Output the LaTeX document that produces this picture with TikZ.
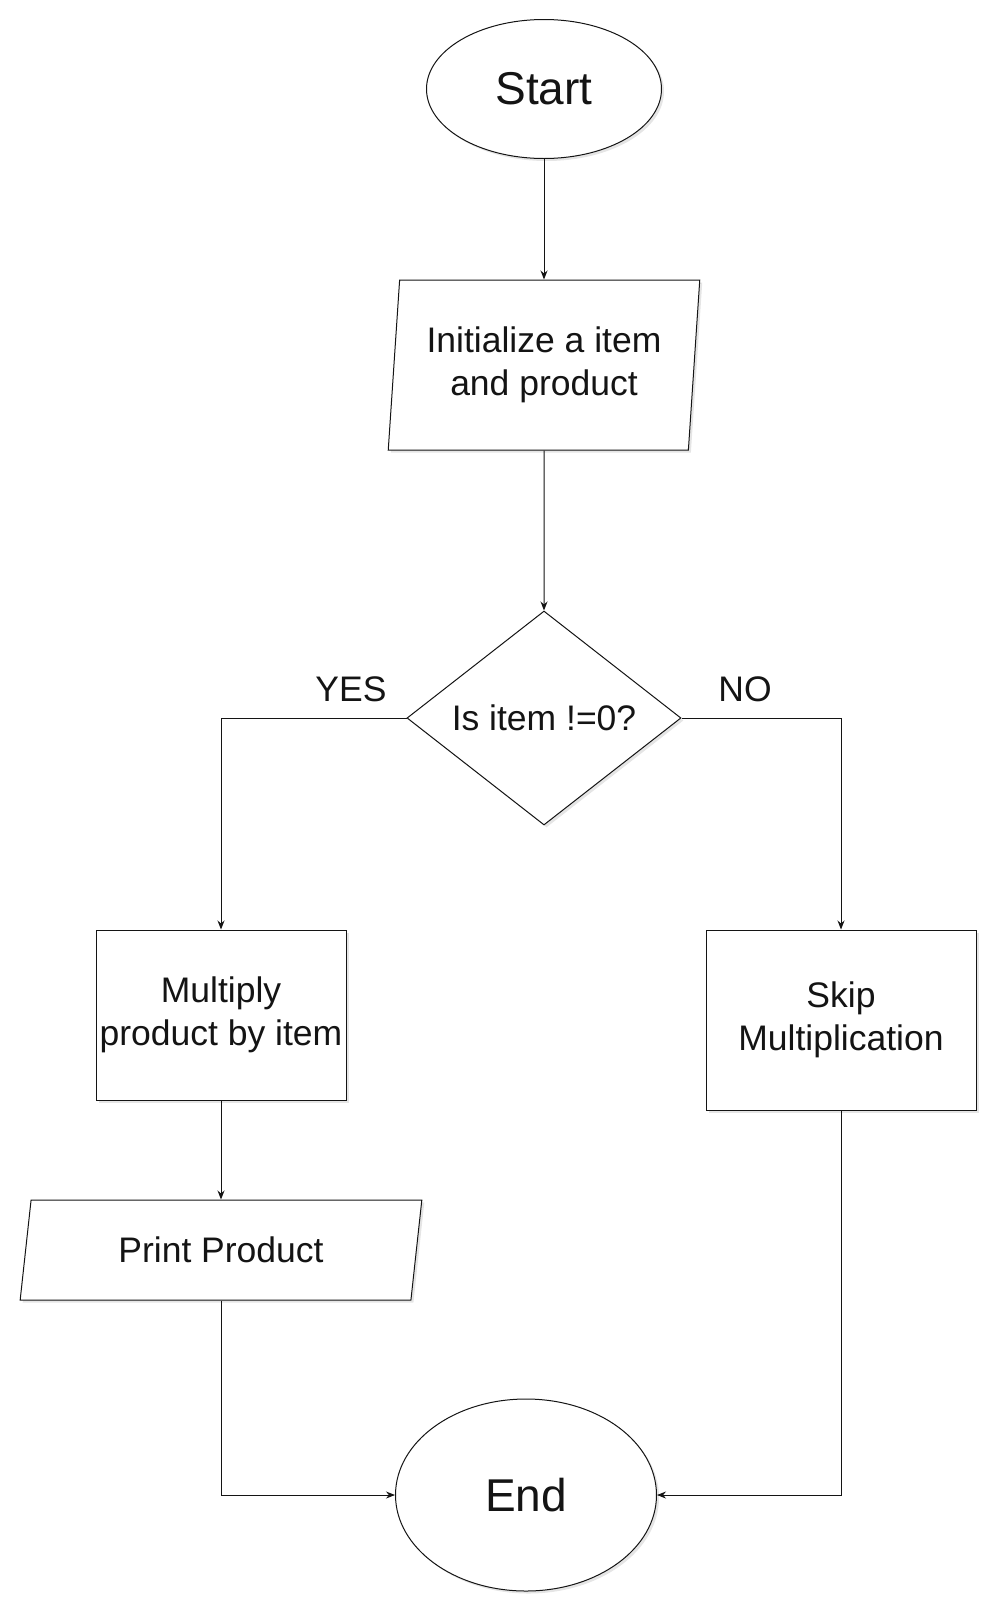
\documentclass[tikz,border=0pt]{standalone}
\usepackage{fontspec}
\setmainfont{Liberation Sans}
\usetikzlibrary{arrows.meta,positioning,shapes.geometric,shadows}
\definecolor{ink}{RGB}{20,20,20}
\definecolor{shade}{RGB}{110,110,110}
\tikzset{
  every picture/.style={color=ink, line width=1pt, x=1pt, y=-1pt},
  box/.style={draw=ink, fill=white, inner sep=2pt, align=center, font=\fontsize{35.5}{43}\selectfont,
    drop shadow={shadow xshift=2.5pt, shadow yshift=-2.5pt, opacity=0.18, fill=shade}},
  term/.style={box, ellipse, font=\fontsize{46}{55}\selectfont},
  io/.style={box, trapezium, trapezium stretches=true},
  proc/.style={box, rectangle},
  decide/.style={box, diamond, inner sep=0pt},
  flow/.style={-{Stealth[length=9pt,width=7pt]}, line width=1pt, color=ink},
  lbl/.style={font=\fontsize{35.5}{43}\selectfont, inner sep=0pt},
}

\begin{document}
\begin{tikzpicture}
  \useasboundingbox (0,0) rectangle (1003,1617);
  % main column
  \node[term, minimum width=235pt, minimum height=139pt] (start) at (544,89) {Start};
  \node[io, trapezium left angle=83.3, trapezium right angle=96.7, minimum width=312pt, minimum height=170pt] (init) at (544,365) {Initialize a item\\ and product};
  \node[decide, minimum width=274pt, minimum height=214pt] (check) at (544,718) {Is item !=0?};
  % the two branches
  \node[proc, minimum width=250pt, minimum height=170pt] (mult) at (221,1015) {Multiply\\ product by item};
  \node[proc, minimum width=270pt, minimum height=180pt] (skip) at (841,1020) {Skip\\ Multiplication};
  \node[io, trapezium left angle=78.7, trapezium right angle=101.3, minimum width=402pt, minimum height=100pt] (print) at (221,1250) {Print Product};
  \node[term, minimum width=261pt, minimum height=192pt] (end) at (526,1495) {End};
  \node[lbl] (yes) at (351,689) {YES};
  \node[lbl] (no) at (745,689) {NO};
  \draw[flow] (start) -- (init);
  \draw[flow] (init) -- (check);
  \draw[flow] (check.west) -| (mult.north);
  \draw[flow] (check.east) -| (skip.north);
  \draw[flow] (mult) -- (print);
  \draw[flow] (print.south) |- (end.west);
  \draw[flow] (skip.south) |- (end.east);
\end{tikzpicture}
\end{document}
